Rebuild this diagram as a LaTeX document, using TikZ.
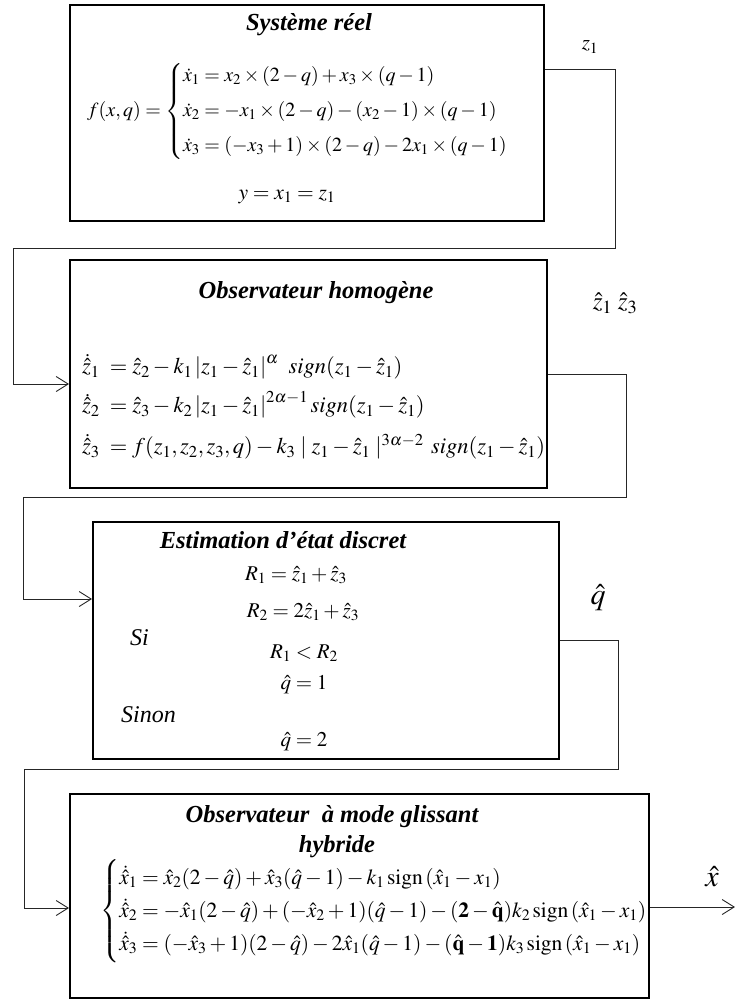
\documentclass[tikz,border=0pt]{standalone}
\usepackage{amsmath}
\usepackage{mathptmx}
\usepackage[no-math]{fontspec}
\setmainfont{Liberation Serif}
\usetikzlibrary{arrows.meta}
\begin{document}
\begin{tikzpicture}[x=1pt,y=-1pt,
  box/.style={draw, line width=2.2pt, inner sep=0pt},
  conn/.style={line width=0.9pt, draw=black!85},
  arr/.style={conn, -{Straight Barb[length=12pt,width=15pt,line width=0.9pt]}},
  ttl/.style={font=\fontsize{24.5}{28}\selectfont\bfseries\itshape, inner sep=0pt},
  eq/.style={font=\fontsize{20}{24}\selectfont, inner sep=0pt},
  eqb/.style={font=\fontsize{22.5}{27}\selectfont, inner sep=0pt},
  eqc/.style={font=\fontsize{21}{25}\selectfont, inner sep=0pt},
  eqd/.style={font=\fontsize{21.5}{25}\selectfont, inner sep=0pt},
  txt/.style={font=\fontsize{24}{28}\selectfont\itshape, inner sep=0pt},
  big/.style={font=\fontsize{30}{34}\selectfont, inner sep=0pt}]
\useasboundingbox (0,0) rectangle (735,999);
% boxes
\node[box, anchor=north west, minimum width=474pt, minimum height=216pt] (b1) at (69,4) {};
\node[box, anchor=north west, minimum width=477pt, minimum height=228pt] (b2) at (69,259) {};
\node[box, anchor=north west, minimum width=466pt, minimum height=237pt] (b3) at (92,521) {};
\node[box, anchor=north west, minimum width=579pt, minimum height=204pt] (b4) at (69,793) {};
% box 1
\node[ttl] (t1) at (309,25) {Système réel};
\node[eq, anchor=west] (e1) at (87,111) {$f(x,q)=\begin{cases}\dot x_1 = x_2\times(2-q)+x_3\times(q-1)\\[6pt]
 \dot x_2=-x_1\times(2-q)-(x_2-1)\times(q-1)\\[6pt]
 \dot x_3=(-x_3+1)\times(2-q)-2x_1\times(q-1)\end{cases}$};
\node[eqd] (y1) at (287,197) {$y=x_1=z_1$};
% box 2
\node[ttl] (t2) at (316,293) {Observateur homogène};
\node[eqb, anchor=west] (e2a) at (82,367) {$\dot{\hat z}_1\;=\hat z_2-k_1\left|z_1-\hat z_1\right|^{\alpha}\;\,sign(z_1-\hat z_1)$};
\node[eqb, anchor=west] (e2b) at (82,405) {$\dot{\hat z}_2\;=\hat z_3-k_2\left|z_1-\hat z_1\right|^{2\alpha-1}sign(z_1-\hat z_1)$};
\node[eqb, anchor=west] (e2c) at (82,447) {$\dot{\hat z}_3\;=f(z_1,z_2,z_3,q)-k_3\mid z_1-\hat z_1\mid^{3\alpha-2}\,sign(z_1-\hat z_1)$};
% box 3
\node[ttl] (t3) at (283,540) {Estimation d’état discret};
\node[eqc] (r1) at (296,575) {$R_1=\hat z_1+\hat z_3$};
\node[eqc] (r2) at (303,612) {$R_2=2\hat z_1+\hat z_3$};
\node[txt, anchor=west] (si) at (130,638) {Si};
\node[eqc] (r3) at (304,653) {$R_1<R_2$};
\node[eqc] (q1) at (304,685) {$\hat q=1$};
\node[txt, anchor=west] (sinon) at (121,715) {Sinon};
\node[eqc] (q2) at (304,742) {$\hat q=2$};
% box 4
\node[ttl] (t4a) at (332,817) {Observateur \ à mode glissant};
\node[ttl] (t4b) at (337,847) {hybride};
\node[eqd, anchor=west] (e4) at (100,911) {$\begin{cases}\dot{\hat x}_1=\hat x_2(2-\hat q)+\hat x_3(\hat q-1)-k_1\,\mathrm{sign}\left(\hat x_1-x_1\right)\\[3pt]
 \dot{\hat x}_2=-\hat x_1(2-\hat q)+(-\hat x_2+1)(\hat q-1)-(\mathbf{2}-\hat{\mathbf{q}})k_2\,\mathrm{sign}\left(\hat x_1-x_1\right)\\[3pt]
 \dot{\hat x}_3=(-\hat x_3+1)(2-\hat q)-2\hat x_1(\hat q-1)-(\hat{\mathbf{q}}-\mathbf{1})k_3\,\mathrm{sign}\left(\hat x_1-x_1\right)\end{cases}$};
% labels
\node[eq, font=\fontsize{21}{24}\selectfont] (lz) at (590,47) {$z_1$};
\node[big, font=\fontsize{25}{30}\selectfont] (lzh) at (615,303) {$\hat z_1\;\hat z_3$};
\node[big] (lqh) at (598,598) {$\hat q$};
\node[big] (lxh) at (712,877) {$\hat x$};
% connectors
\coordinate (c1a) at (615,69);
\coordinate (c1b) at (615,248);
\coordinate (c1c) at (13,248);
\coordinate (c1d) at (13,384);
\draw[arr] (b1.east |- c1a) -- (c1a) -- (c1b) -- (c1c) -- (c1d) -- (b2.west |- c1d);
\coordinate (c2a) at (626,374);
\coordinate (c2b) at (626,497);
\coordinate (c2c) at (23,497);
\coordinate (c2d) at (23,599);
\draw[arr] (b2.east |- c2a) -- (c2a) -- (c2b) -- (c2c) -- (c2d) -- (b3.west |- c2d);
\coordinate (c3a) at (618,640);
\coordinate (c3b) at (618,769);
\coordinate (c3c) at (24,769);
\coordinate (c3d) at (24,908);
\draw[arr] (b3.east |- c3a) -- (c3a) -- (c3b) -- (c3c) -- (c3d) -- (b4.west |- c3d);
\coordinate (out) at (735,907);
\draw[arr] (b4.east |- out) -- (out);
\end{tikzpicture}
\end{document}
